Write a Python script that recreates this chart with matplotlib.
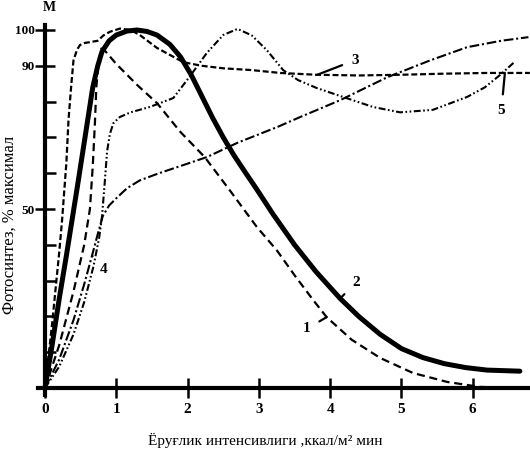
import matplotlib
matplotlib.use("Agg")
import matplotlib.pyplot as plt

plt.rcParams['font.family'] = ['Liberation Serif', 'DejaVu Serif']
plt.rcParams['lines.scale_dashes'] = False

# Curve 1 (long dashes)
c1_x = [0, 0.2, 0.4, 0.55, 0.63, 0.67, 0.7, 0.72, 0.75, 0.79, 0.85, 1.0, 1.3, 1.57, 1.9, 2.24, 2.6, 2.97, 3.25,
        3.5, 3.76, 3.95, 4.3, 4.7, 5.16, 5.64, 6.1, 6.6]
c1_y = [0, 12, 27, 40, 50, 62, 74, 84, 91, 94.8, 94, 90.5, 84.5, 79.6, 71.5, 64.5, 55, 45, 38.5,
        31.5, 24.6, 19.8, 13.5, 8.4, 4.2, 1.7, 0.3, 0]
# Curve 2 (thick solid)
c2_x = [0, 0.1, 0.2, 0.3, 0.38, 0.46, 0.53, 0.6, 0.67, 0.74, 0.8, 0.9, 1.0, 1.15, 1.29, 1.43, 1.57, 1.75, 1.9,
        2.05, 2.2, 2.35, 2.5, 2.65, 2.8, 2.97, 3.2, 3.5, 3.8, 4.14, 4.4, 4.7, 5.0, 5.3, 5.6, 5.9, 6.2, 6.66]
c2_y = [0, 12, 25, 37, 47, 57, 66, 75, 84, 90, 94, 97, 98.6, 99.7, 100, 99.6, 98.6, 96, 92.5,
        87.5, 81.5, 75.5, 70, 65, 60.5, 55.5, 48.5, 40, 32.5, 25, 20, 15, 11, 8.5, 6.8, 5.7, 5.0, 4.7]
# Curve 3 (dashed, plateau)
c3_x = [0, 0.1, 0.2, 0.24, 0.3, 0.33, 0.37, 0.4, 0.45, 0.49, 0.56, 0.63, 0.74, 0.82, 0.91, 1.05, 1.2, 1.33,
        1.57, 1.94, 2.2, 2.5, 2.9, 3.3, 3.8, 4.4, 5.0, 5.6, 6.2, 6.8]
c3_y = [0, 18, 38, 47, 63, 75, 85, 91.6, 94.5, 95.8, 96.4, 96.6, 97, 98.5, 99.5, 100.4, 100, 98.6,
        95, 91, 90, 89.3, 88.8, 88, 87.5, 87.3, 87.5, 87.8, 88, 88]
# Curve 4 (dash-dot)
c4_x = [0, 0.2, 0.4, 0.55, 0.66, 0.74, 0.81, 0.9, 1.0, 1.15, 1.33, 1.6, 1.9, 2.27, 2.7, 3.27, 3.58, 4.14,
        4.8, 5.4, 5.92, 6.4, 6.78]
c4_y = [0, 8, 19, 29, 37, 43, 48, 51, 53, 55.8, 58, 60, 62, 64.5, 68.5, 73, 75.7, 80.4,
        86.8, 91.5, 95.2, 97, 98]
# Curve 5 (dash-dot-dot)
c5_x = [0, 0.2, 0.4, 0.55, 0.68, 0.76, 0.8, 0.84, 0.87, 0.91, 0.96, 1.05, 1.2, 1.47, 1.8, 2.03, 2.27, 2.5,
        2.7, 2.9, 3.11, 3.34, 3.55, 3.81, 4.18, 4.6, 4.98, 5.44, 5.92, 6.17, 6.38, 6.57]
c5_y = [0, 6, 15, 24, 34, 42, 48, 58, 66, 71, 74, 75.7, 77, 78.5, 81, 87, 93.6, 98.6,
        100.3, 98.5, 94.4, 88.8, 86, 83.8, 81.3, 78.5, 77, 77.7, 81.3, 84, 87.4, 90.8]

x_ticks = [0, 1, 2, 3, 4, 5, 6]
y_major = [50, 90, 100]
y_minor = [10, 20, 30, 40, 60, 70, 80]

x_label = "Ёруғлик интенсивлиги ,ккал/м² мин"
y_label = "Фотосинтез, % максимал"

fig = plt.figure(figsize=(5.30, 4.51), dpi=100)
W, H = 530, 451
px_unit_x = 71.3
px_unit_y = 3.58
x0_px, y0_px = 45, 388
xmin, xmax = -0.1, 6.8
ymin, ymax = -2, 104
left = (x0_px + xmin * px_unit_x) / W
width = (xmax - xmin) * px_unit_x / W
bottom = 1 - (y0_px - ymin * px_unit_y) / H
height = (ymax - ymin) * px_unit_y / H
ax = fig.add_axes([left, bottom, width, height])
ax.set_xlim(xmin, xmax)
ax.set_ylim(ymin, ymax)

ax.plot(c1_x, c1_y, color='black', lw=1.6, dashes=(5.8, 3.4))
ax.plot(c2_x, c2_y, color='black', lw=3.6, solid_capstyle='round', solid_joinstyle='round')
ax.plot(c3_x, c3_y, color='black', lw=1.6, dashes=(4.3, 2.0))
ax.plot(c4_x, c4_y, color='black', lw=1.5, dashes=(7, 2, 1.5, 2))
ax.plot(c5_x, c5_y, color='black', lw=1.5, dashes=(5, 1.8, 1.2, 1.8, 1.2, 1.8))

for s in ['top', 'right']:
    ax.spines[s].set_visible(False)
ax.spines['left'].set_position(('data', 0))
ax.spines['bottom'].set_position(('data', 0))
ax.spines['left'].set_linewidth(3)
ax.spines['bottom'].set_linewidth(3)
ax.spines['left'].set_bounds(ymin, 101.5)
ax.spines['bottom'].set_bounds(xmin, xmax)

ax.set_xticks(x_ticks)
ax.set_xticklabels([str(t) for t in x_ticks], fontsize=11, fontweight='bold')
ax.tick_params(axis='x', direction='inout', length=14, width=1.8, pad=4)
ax.set_yticks(y_major)
ax.set_yticklabels([str(t) for t in y_major], fontsize=9.5, fontweight='bold')
ax.set_yticks(y_minor, minor=True)
ax.tick_params(axis='y', which='major', direction='inout', length=14, width=1.8, pad=0.5)
ax.tick_params(axis='y', which='minor', direction='in', length=8, width=1.8)

ax.text(0.06, 104.5, "M", fontsize=10, fontweight='bold', ha='center', va='bottom', clip_on=False)

fig.text(10 / W, 1 - 225 / H, y_label, rotation=90, ha='center', va='center', fontsize=12)
fig.text(265 / W, 1 - 440 / H, x_label, ha='center', va='center', fontsize=11)

labels = [("3", (3.82, 87.5), (4.35, 91.6)),
          ("5", (6.45, 88), (6.4, 77.5)),
          ("2", (4.14, 25), (4.36, 29.5)),
          ("1", (3.95, 19.8), (3.67, 16.5)),
          ("4", (0.66, 37), (0.82, 33))]
for txt, xy, xyt in labels:
    ax.annotate(txt, xy=xy, xytext=xyt, fontsize=11, fontweight='bold', ha='center', va='center',
                arrowprops=dict(arrowstyle='-', color='black', lw=1.6, shrinkA=5, shrinkB=0))

fig.savefig("out.png", dpi=100)
